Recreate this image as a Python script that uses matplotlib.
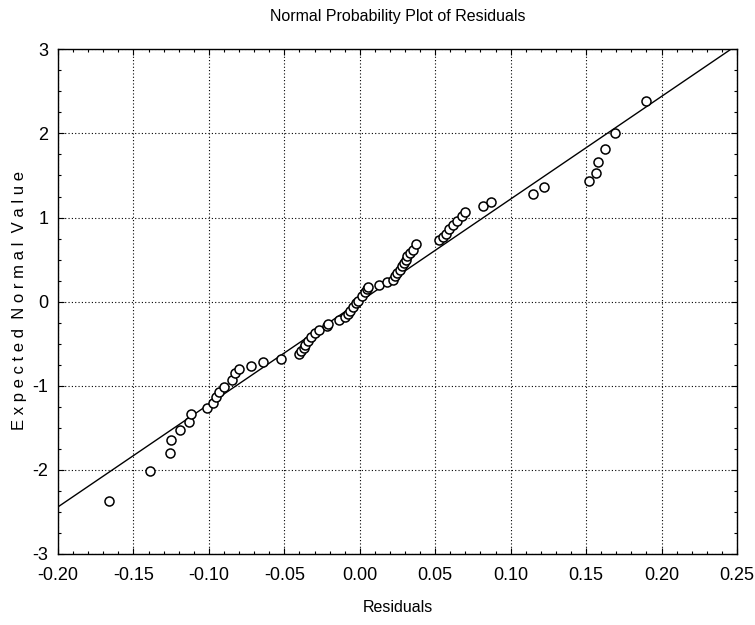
import matplotlib
matplotlib.use("Agg")
import matplotlib.pyplot as plt
from matplotlib.ticker import MultipleLocator, FormatStrFormatter
import numpy as np

plt.rcParams['axes.unicode_minus'] = False

residuals = [-0.166, -0.139, -0.126, -0.125, -0.119, -0.113, -0.112, -0.101,
             -0.097, -0.095, -0.093, -0.090, -0.085, -0.083, -0.080, -0.072,
             -0.064, -0.052, -0.040, -0.039, -0.037, -0.036, -0.034, -0.032,
             -0.030, -0.027, -0.022, -0.021, -0.014, -0.010, -0.008, -0.0065,
             -0.0047, -0.0027, -0.001, 0.0013, 0.0034, 0.005, 0.0056, 0.013,
             0.018, 0.022, 0.0233, 0.0249, 0.0266, 0.0277, 0.0293, 0.0306,
             0.0315, 0.033, 0.035, 0.0373, 0.0527, 0.055, 0.057, 0.0593,
             0.0615, 0.0646, 0.0675, 0.0697, 0.0818, 0.0868, 0.115, 0.1223,
             0.152, 0.1565, 0.158, 0.1625, 0.169, 0.1897]
expected = [-2.37, -2.01, -1.80, -1.65, -1.53, -1.43, -1.33, -1.27,
            -1.20, -1.13, -1.07, -1.01, -0.93, -0.85, -0.80, -0.76,
            -0.72, -0.68, -0.62, -0.59, -0.55, -0.51, -0.47, -0.42,
            -0.37, -0.34, -0.29, -0.26, -0.22, -0.18, -0.15, -0.11,
            -0.06, -0.02, 0.01, 0.07, 0.11, 0.15, 0.18, 0.20,
            0.23, 0.26, 0.30, 0.34, 0.38, 0.42, 0.46, 0.50,
            0.54, 0.58, 0.61, 0.686, 0.73, 0.77, 0.81, 0.86,
            0.91, 0.96, 1.02, 1.07, 1.14, 1.19, 1.28, 1.36,
            1.43, 1.53, 1.66, 1.81, 2.01, 2.38]
line_x = [-0.20, 0.25]
line_slope = 12.2
line_intercept = 0.0

x_ticks = [-0.20, -0.15, -0.10, -0.05, 0.00, 0.05, 0.10, 0.15, 0.20, 0.25]
y_ticks = [-3, -2, -1, 0, 1, 2, 3]

narrow = ['Liberation Sans Narrow', 'Liberation Sans', 'DejaVu Sans']
regular = ['Liberation Sans', 'DejaVu Sans']

fig = plt.figure(figsize=(7.55, 6.25), dpi=100)
ax = fig.add_axes([58/755, 1 - 554/625, (737-58)/755, (554-49.3)/625])

lx = np.array(line_x)
ax.plot(lx, line_intercept + line_slope * lx, color='black', lw=1.0, zorder=3)
ax.plot(residuals, expected, linestyle='none', marker='o', ms=6.5,
        mfc='white', mec='black', mew=1.1, zorder=4)

ax.set_xlim(-0.20, 0.25)
ax.set_ylim(-3, 3)
ax.set_xticks(x_ticks)
ax.set_yticks(y_ticks)
ax.xaxis.set_major_formatter(FormatStrFormatter('%.2f'))
ax.xaxis.set_minor_locator(MultipleLocator(0.01))
ax.yaxis.set_minor_locator(MultipleLocator(0.25))
ax.grid(True, which='major', color='black', linestyle=(0, (1, 2)), lw=0.8)
ax.tick_params(which='both', direction='in', top=True, right=True, color='black')
ax.tick_params(which='major', length=4, width=0.8)
ax.tick_params(axis='x', which='major', pad=9)
ax.tick_params(axis='y', which='major', pad=7)
ax.tick_params(which='minor', length=2.5, width=0.8)
for sp in ax.spines.values():
    sp.set_linewidth(1.0)

for lab in ax.get_xticklabels() + ax.get_yticklabels():
    lab.set_family(narrow)
    lab.set_fontsize(13)

fig.text(0.527, 1 - 16/625, 'Normal Probability Plot of Residuals', ha='center',
         va='center', family=narrow, fontsize=11.5)
fig.text(0.527, 1 - 607/625, 'Residuals', ha='center', va='center',
         family=narrow, fontsize=11.5)
fig.text(20/755, 1 - 300/625, 'E x p e c t e d  N o r m a l  V a l u e',
         rotation=90, ha='center', va='center', family=regular, fontsize=12)

fig.savefig('out.png', dpi=100)
